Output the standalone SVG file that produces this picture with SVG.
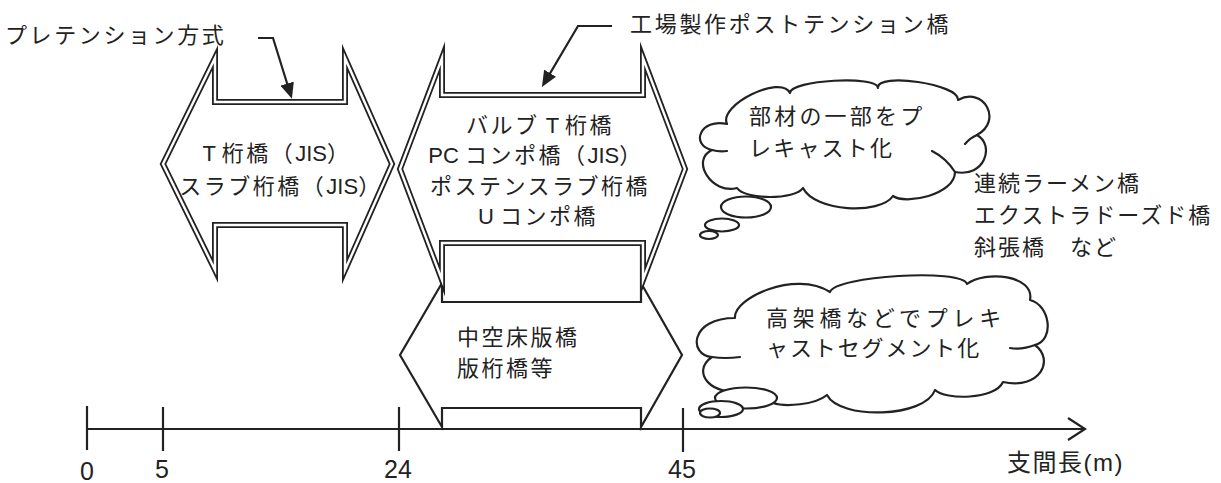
<svg xmlns="http://www.w3.org/2000/svg" width="1221" height="483" viewBox="0 0 1221 483">
  <defs>
    <style>
      text { font-family: "Liberation Sans", "Noto Sans CJK JP", sans-serif; fill: #222; }
      .t20 { font-size: 22px; letter-spacing: 2.5px; }
      .t21 { font-size: 22px; letter-spacing: 2px; }
      .lat { letter-spacing: 0px; }
      .num { font-size: 25px; }
      .dbl-o { fill: none; stroke: #222; stroke-width: 6; stroke-linejoin: miter; stroke-miterlimit: 12; }
      .dbl-i { fill: none; stroke: #fff; stroke-width: 2.4; stroke-linejoin: miter; stroke-miterlimit: 12; }
      .ln { fill: none; stroke: #222; stroke-width: 2.2; stroke-linejoin: miter; stroke-miterlimit: 12; }
      .cloud { fill: #fff; stroke: #222; stroke-width: 2.2; stroke-linejoin: round; }
      .hook { fill: none; stroke: #222; stroke-width: 2.2; stroke-linecap: round; }
    </style>
    <marker id="ah" viewBox="0 0 16 14" refX="13" refY="7" markerWidth="16" markerHeight="14" markerUnits="userSpaceOnUse" orient="auto">
      <path d="M0,0 L16,7 L0,14 Z" fill="#222"/>
    </marker>
  </defs>
  <rect width="1221" height="483" fill="#fff"/>

  <!-- hollow slab / slab girder shape (single line) -->
  <g id="node-hollow">
    <path class="ln" d="M442,283 L400,355 L442,427 L442,408 L641,408 L641,427 L682,355 L641,283"/>
    <path class="ln" d="M442,245 L442,302 L641,302 L641,245"/>
    <text class="t20" x="457" y="345">中空床版橋</text>
    <text class="t20" x="457" y="376">版桁橋等</text>
  </g>

  <!-- pretension shape -->
  <g id="node-pretension">
    <path class="dbl-o" d="M215,58 L215,102 L345,102 L345,58 L392,164 L345,270 L345,225 L215,225 L215,270 L163,164 Z"/>
    <path class="dbl-i" d="M215,58 L215,102 L345,102 L345,58 L392,164 L345,270 L345,225 L215,225 L215,270 L163,164 Z"/>
    <text class="t20" x="277" y="161" text-anchor="middle"><tspan class="lat">T </tspan>桁橋（<tspan class="lat">JIS</tspan>）</text>
    <text class="t20" x="281" y="194" text-anchor="middle">スラブ桁橋（<tspan class="lat">JIS</tspan>）</text>
  </g>

  <!-- factory post-tension shape -->
  <g id="node-posttension">
    <path class="dbl-o" d="M442,58 L442,95 L643,95 L643,58 L685,169 L643,280 L643,243 L442,243 L442,280 L400,169 Z"/>
    <path class="dbl-i" d="M442,58 L442,95 L643,95 L643,58 L685,169 L643,280 L643,243 L442,243 L442,280 L400,169 Z"/>
    <text class="t20" x="540" y="133" text-anchor="middle">バルブ<tspan class="lat"> T </tspan>桁橋</text>
    <text class="t20" x="536" y="163" text-anchor="middle"><tspan class="lat">PC </tspan>コンポ橋（<tspan class="lat">JIS</tspan>）</text>
    <text class="t20" x="540" y="194" text-anchor="middle">ポステンスラブ桁橋</text>
    <text class="t20" x="538" y="224" text-anchor="middle"><tspan class="lat">U </tspan>コンポ橋</text>
  </g>

  <!-- labels -->
  <g id="label-pretension">
    <text class="t20" x="5" y="43" style="letter-spacing:2.6px">プレテンション方式</text>
  </g>
  <g id="label-factory">
    <text class="t20" x="630" y="32" style="letter-spacing:2.7px">工場製作ポストテンション橋</text>
  </g>

  <!-- cloud 1 -->
  <g id="cloud-precast">
    <path class="cloud" d="M727,124 C718,105 781,74 790,93 C790,80 878,75 878,88 C876,72 960,84 958,100 C984,86 1003,121 977,135 C995,145 985,178 955,172 C955,195 905,205 893,196 C880,215 815,212 803,188 C795,200 745,200 737,188 C712,195 690,160 712,150 C690,145 700,118 727,124 Z"/>
    <path class="hook" d="M712,150 Q719,152 727,151 M977,135 Q970,138 965,144 M955,172 Q946,158 932,151"/>
    <ellipse class="cloud" cx="746" cy="207" rx="25" ry="10.5"/>
    <ellipse class="cloud" cx="722" cy="225" rx="17" ry="6.5"/>
    <ellipse class="cloud" cx="709" cy="235" rx="9" ry="4"/>
    <text class="t20" x="749" y="124" style="letter-spacing:3.2px">部材の一部をプ</text>
    <text class="t20" x="749" y="156" style="letter-spacing:2.2px">レキャスト化</text>
  </g>

  <!-- cloud 2 -->
  <g id="cloud-segment">
    <path class="cloud" d="M735,318 C733,298 795,270 830,292 C835,276 962,268 967,284 C985,270 1035,275 1030,300 C1050,305 1055,340 1035,345 C1055,360 1040,390 1003,382 C995,400 945,400 935,390 C925,418 840,420 827,395 C815,405 785,407 773,403 L745,390 C712,398 690,372 712,357 C688,355 690,318 735,318 Z"/>
    <path class="hook" d="M712,357 Q725,359 740,357 M1035,345 Q1022,350 1010,348"/>
    <ellipse class="cloud" cx="746" cy="398" rx="31" ry="10.5"/>
    <ellipse class="cloud" cx="721" cy="409" rx="22" ry="8"/>
    <ellipse class="cloud" cx="710" cy="413" rx="10" ry="4.5"/>
    <text class="t20" x="766" y="326" style="letter-spacing:4.7px">高架橋などでプレキ</text>
    <text class="t20" x="766" y="356" style="letter-spacing:1.9px">ャストセグメント化</text>
  </g>

  <!-- other types -->
  <g id="node-others">
    <text class="t21" x="974" y="191">連続ラーメン橋</text>
    <text class="t21" x="974" y="223">エクストラドーズド橋</text>
    <text class="t21" x="974" y="255">斜張橋　など</text>
  </g>

  <!-- axis -->
  <g id="axis">
    <line class="ln" x1="87" y1="429" x2="1085" y2="429"/>
    <polyline class="ln" points="1068,418 1085,429 1068,440"/>
    <line class="ln" x1="87" y1="406" x2="87" y2="450"/>
    <line class="ln" x1="163" y1="407" x2="163" y2="451"/>
    <line class="ln" x1="399" y1="407" x2="399" y2="451"/>
    <line class="ln" x1="683" y1="408" x2="683" y2="452"/>
    <text class="num" x="87" y="480" text-anchor="middle">0</text>
    <text class="num" x="162" y="478" text-anchor="middle">5</text>
    <text class="num" x="398" y="478" text-anchor="middle">24</text>
    <text class="num" x="682" y="478" text-anchor="middle">45</text>
    <text class="num" x="1007" y="471" style="font-size:24px;letter-spacing:1.5px">支間長(m)</text>
  </g>

  <!-- connectors -->
  <g id="connectors">
    <polyline class="ln" points="258,38 273,38 291,96" marker-end="url(#ah)"/>
    <polyline class="ln" points="612,26 578,26 543.5,84.4" marker-end="url(#ah)"/>
  </g>
</svg>
